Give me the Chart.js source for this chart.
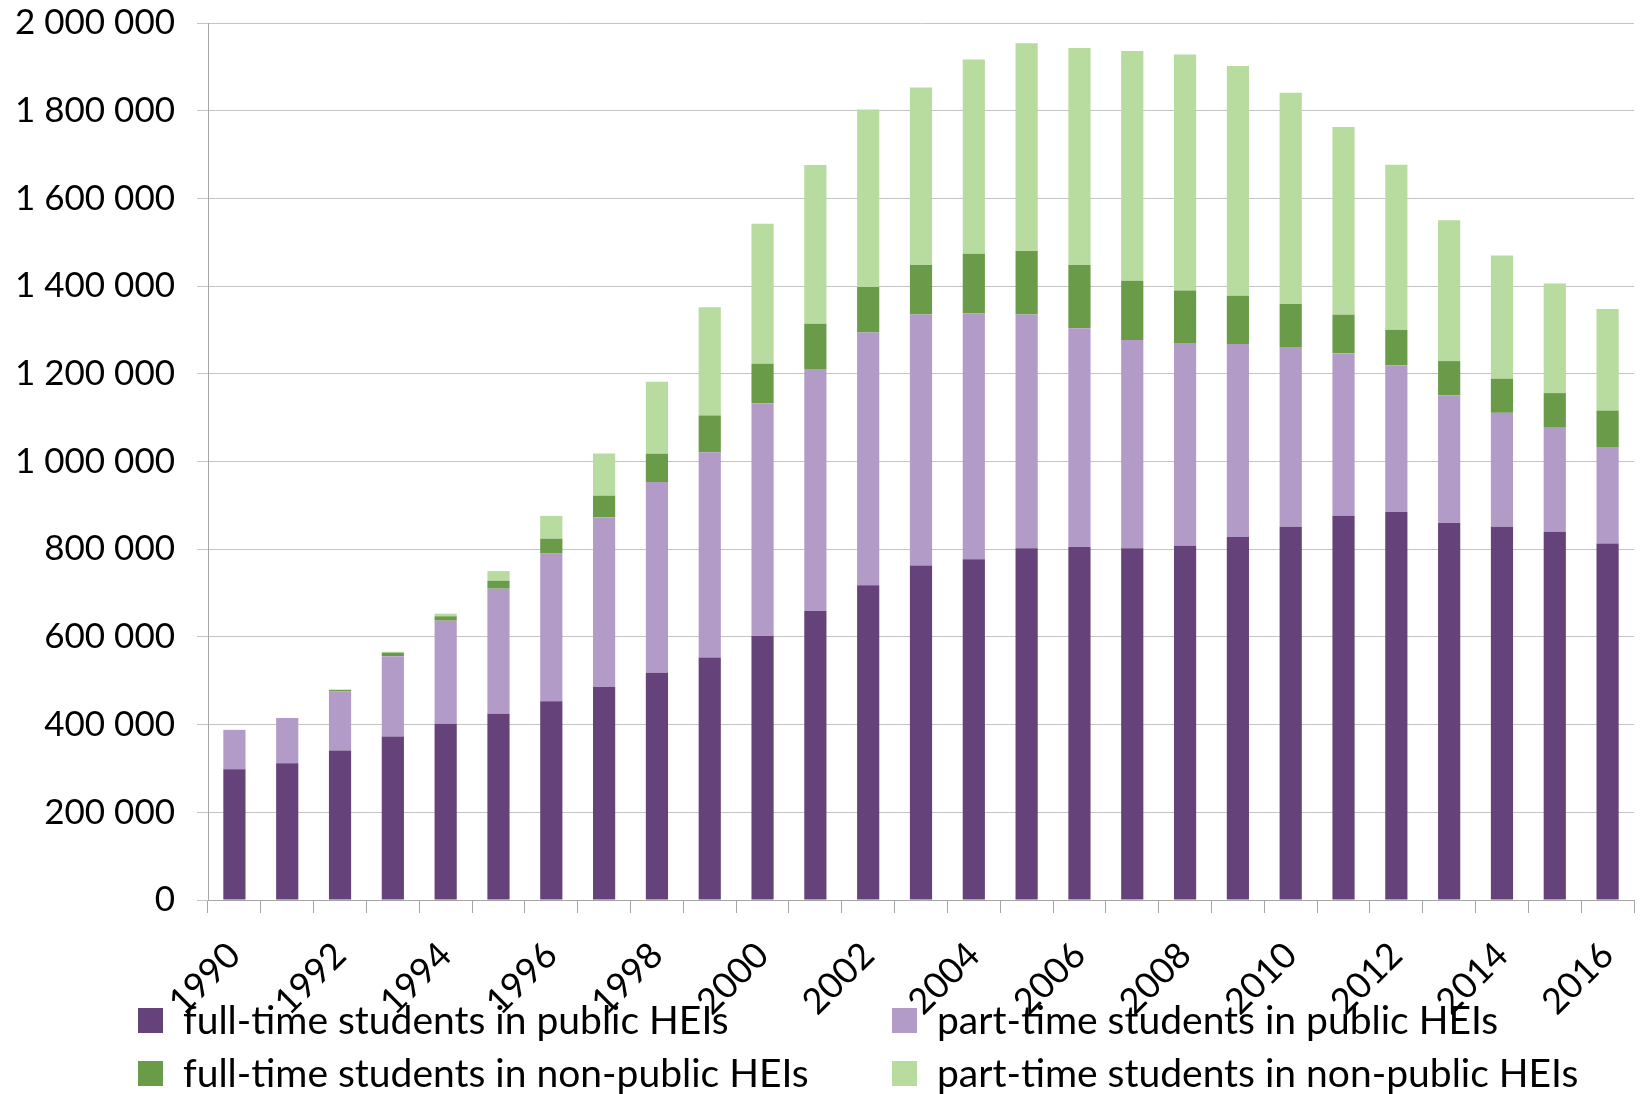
<!DOCTYPE html>
<html>
<head>
<meta charset="utf-8">
<script src="https://cdn.jsdelivr.net/npm/chart.js@4/dist/chart.umd.min.js"></script>
<style>
  body { margin: 0; background: #fff; }
  #wrap { width: 1640px; height: 1094px; position: relative; }
</style>
</head>
<body>
<div id="wrap"><canvas id="students"></canvas></div>
<script>
var years = ["1990","1991","1992","1993","1994","1995","1996","1997","1998","1999","2000","2001","2002","2003",
             "2004","2005","2006","2007","2008","2009","2010","2011","2012","2013","2014","2015","2016"];

var fullPublic = [298000, 312000, 341000, 373000, 402000, 425000, 453000, 486000, 518000, 553000, 602000, 659000, 718000, 763000,
                  777000, 802000, 805000, 802000, 808000, 828000, 851000, 876000, 885000, 860000, 851000, 840000, 813000];
var partPublic = [90000, 103000, 135000, 183000, 235000, 285000, 337000, 387000, 435000, 468000, 531000, 552000, 576000, 572000,
                  561000, 533000, 499000, 475000, 462000, 440000, 410000, 371000, 334000, 291000, 260000, 237000, 220000];
var fullNonPublic = [0, 0, 3000, 8000, 10000, 18000, 34000, 49000, 65000, 84000, 90000, 103000, 104000, 113000,
                     136000, 145000, 144000, 135000, 120000, 110000, 98000, 88000, 81000, 78000, 78000, 79000, 83000];
var partNonPublic = [0, 0, 1000, 2000, 6000, 22000, 52000, 96000, 164000, 247000, 319000, 362000, 405000, 405000,
                     443000, 474000, 495000, 524000, 538000, 524000, 482000, 428000, 377000, 321000, 281000, 250000, 232000];

var seriesNames = ["full-time students in public HEIs", "part-time students in public HEIs",
                   "full-time students in non-public HEIs", "part-time students in non-public HEIs"];
var barColors = ["#654279", "#b39bc7", "#6a9b48", "#b8dba0"];

var fontName = "Lato, 'Open Sans', sans-serif";

function spaced(v) {
  return v.toString().replace(/\B(?=(\d{3})+(?!\d))/g, " ");
}

// legend drawn by hand so the two columns line up like the original
var gridLegend = {
  id: "gridLegend",
  afterDraw: function(chart) {
    var ctx = chart.ctx;
    var cols = [138, 892];
    var rows = [1020, 1073];
    ctx.save();
    ctx.font = "39px " + fontName;
    ctx.textBaseline = "middle";
    chart.data.datasets.forEach(function(ds, i) {
      var x = cols[i % 2];
      var y = rows[Math.floor(i / 2)];
      ctx.fillStyle = ds.backgroundColor;
      ctx.fillRect(x, y - 12, 25, 25);
      ctx.fillStyle = "#000";
      ctx.fillText(ds.label, x + 45, y + 1);
    });
    ctx.restore();
  }
};

new Chart("students", {
  type: "bar",
  data: {
    labels: years,
    datasets: [
      { label: seriesNames[0], data: fullPublic, backgroundColor: barColors[0] },
      { label: seriesNames[1], data: partPublic, backgroundColor: barColors[1] },
      { label: seriesNames[2], data: fullNonPublic, backgroundColor: barColors[2] },
      { label: seriesNames[3], data: partNonPublic, backgroundColor: barColors[3] }
    ]
  },
  options: {
    responsive: true,
    maintainAspectRatio: false,
    animation: false,
    layout: { padding: { top: 23, right: 6, bottom: 0, left: 0 } },
    datasets: { bar: { barPercentage: 0.42, categoryPercentage: 1 } },
    plugins: {
      legend: { display: false },
      tooltip: { enabled: false }
    },
    scales: {
      x: {
        stacked: true,
        grid: { drawOnChartArea: false, drawTicks: true, tickLength: 13, color: "#a6a6a6" },
        border: { display: true, color: "#a6a6a6" },
        ticks: {
          autoSkip: false,
          minRotation: 45,
          maxRotation: 45,
          padding: 21,
          color: "#000",
          font: { family: fontName, size: 36 },
          callback: function(val, idx) { return idx % 2 === 0 ? this.getLabelForValue(val) : ""; }
        },
        afterFit: function(scale) {
          scale.height = 194;
          scale.paddingRight = 0;
        }
      },
      y: {
        stacked: true,
        min: 0,
        max: 2000000,
        grid: { color: "#c4c4c4", tickLength: 11 },
        border: { display: true, color: "#a6a6a6" },
        ticks: {
          stepSize: 200000,
          padding: 22,
          color: "#000",
          font: { family: fontName, size: 35 },
          callback: function(v) { return spaced(v); }
        },
        afterFit: function(scale) {
          scale.width = 208;
          scale.paddingTop = 0;
        }
      }
    }
  },
  plugins: [gridLegend]
});
</script>
</body>
</html>
